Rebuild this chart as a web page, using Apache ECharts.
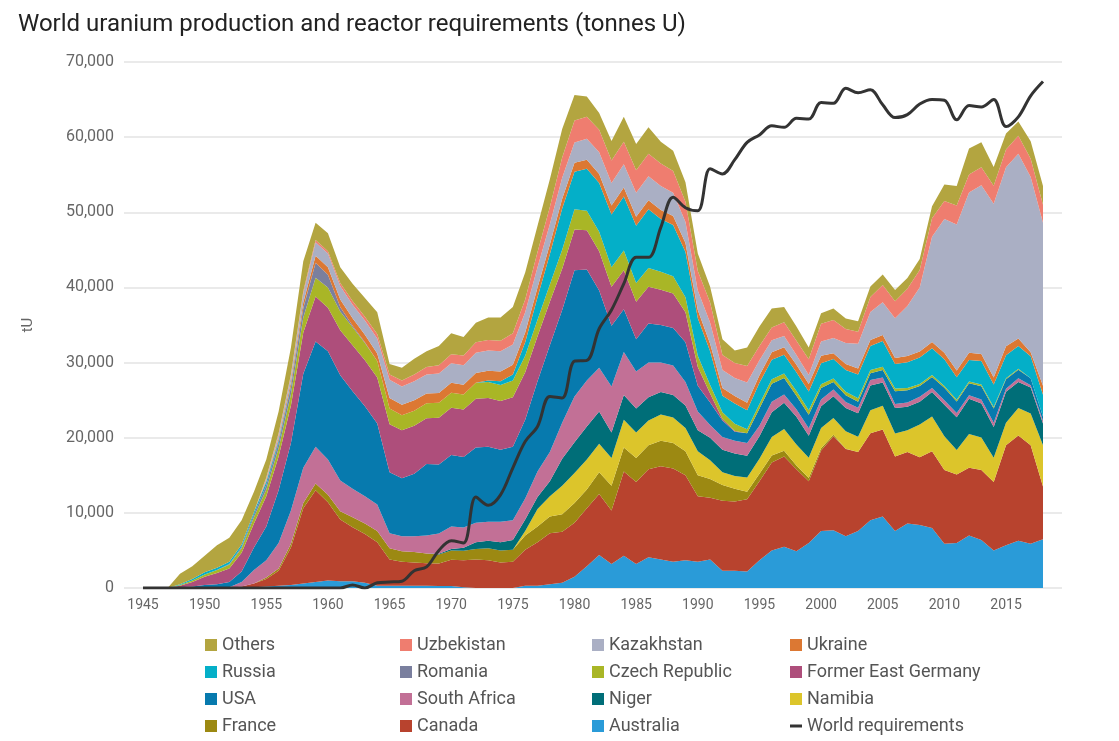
<!DOCTYPE html>
<html><head><meta charset="utf-8">
<script src="https://cdn.jsdelivr.net/npm/echarts@6/dist/echarts.min.js"></script>
<style>html,body{margin:0;padding:0;background:#fff}#c{width:1119px;height:741px}</style>
</head><body><div id="c"></div>
<script>
const years = [1945,1946,1947,1948,1949,1950,1951,1952,1953,1954,1955,1956,1957,1958,1959,1960,1961,1962,1963,1964,1965,1966,1967,1968,1969,1970,1971,1972,1973,1974,1975,1976,1977,1978,1979,1980,1981,1982,1983,1984,1985,1986,1987,1988,1989,1990,1991,1992,1993,1994,1995,1996,1997,1998,1999,2000,2001,2002,2003,2004,2005,2006,2007,2008,2009,2010,2011,2012,2013,2014,2015,2016,2017,2018];
const yTickLabels = ['0','10,000','20,000','30,000','40,000','50,000','60,000','70,000'];

const australia = [0,0,0,0,0,0,0,0,0,100,200,300,400,600,800,1000,900,900,700,300,300,300,300,300,250,250,100,0,0,0,0,300,300,500,700,1500,2900,4400,3200,4300,3200,4100,3800,3500,3700,3500,3800,2300,2300,2200,3700,5000,5500,4900,6000,7600,7700,6900,7600,9000,9500,7600,8600,8400,8000,5900,6000,7000,6400,5000,5700,6300,5900,6500];
const canada = [0,0,0,0,0,0,0,0,200,500,1000,2000,5000,10000,12200,10400,8200,7200,6500,5800,3500,3200,3100,3000,3000,3500,3600,3800,3700,3400,3500,4800,5800,6800,6800,7200,7700,8100,7100,11200,10900,11700,12400,12400,11300,8700,8200,9300,9200,9600,10500,11700,12000,10900,8200,10700,12500,11600,10500,11600,11600,9900,9500,9000,10200,9800,9100,9000,9300,9100,13300,14000,13100,7000];
const france = [0,0,0,0,0,0,0,0,0,0,200,300,500,700,900,1000,1100,1300,1400,1500,1500,1400,1400,1300,1200,1250,1250,1400,1600,1600,1600,1900,2100,2200,2300,2600,2500,2900,3300,3200,3200,3200,3400,3400,3200,2800,2500,2100,1700,1000,1000,930,750,500,450,300,180,20,0,0,0,0,0,0,0,0,0,0,0,0,0,0,0,0];
const namibia = [0,0,0,0,0,0,0,0,0,0,0,0,0,0,0,0,0,0,0,0,0,0,0,0,0,0,0,0,0,0,0,600,2300,2700,3800,4000,4000,3800,3700,3700,3400,3300,3500,3400,3100,3200,2500,1700,1700,1900,2000,2450,2900,2800,2700,2700,2240,2330,2040,3040,3150,3070,2880,4370,4630,4500,3260,4500,4320,3250,3000,3650,4220,5500];
const niger = [0,0,0,0,0,0,0,0,0,0,0,0,0,0,0,0,0,0,0,0,0,0,0,0,100,200,400,900,1000,1100,1300,1500,1600,2000,3600,4100,4400,4300,3400,3300,3200,3100,3000,3000,3000,2800,3000,3000,3000,2900,3000,3300,3500,3700,2900,2900,2900,3100,3100,3300,3100,3400,3150,3030,3240,4200,4350,4670,4520,4060,4120,3480,3450,2900];
const southAfrica = [0,0,0,0,0,0,0,100,600,1800,2300,3400,4400,4700,4900,4700,4100,3800,3600,3500,2000,2000,2100,2400,2700,3000,2700,2600,2500,2700,2600,2800,3400,3900,4800,6100,6100,5800,6100,5700,4900,4600,3900,3900,3100,2500,1700,1700,1700,1700,1400,1400,1100,1000,1000,900,900,800,760,750,670,530,540,650,560,580,580,470,530,570,390,490,310,350];
const usa = [0,0,0,100,200,400,500,700,1400,3000,4500,7000,9000,12500,14000,14400,14000,13000,12000,10800,8100,7700,8300,9500,9200,9500,9400,10000,10000,9600,9800,10500,12000,14200,15000,16800,14800,10300,8100,5700,4300,5200,5000,5000,5300,3400,3000,2200,1200,1300,2300,2400,2200,1800,1800,1500,1000,900,800,900,1000,1700,1650,1430,1450,1660,1540,1600,1790,1920,1260,1130,940,580];
const eastGermany = [0,0,0,200,600,1100,1500,1800,2500,3200,4000,4500,5000,5500,6000,5800,6000,6100,6100,6100,6400,6400,6400,6100,6200,6300,6300,6500,6500,6500,6600,6300,6000,5800,5500,5400,5200,5200,5200,5200,5000,4900,4700,4600,4000,2500,1200,200,100,0,0,0,0,0,0,0,0,0,0,0,0,0,0,0,0,0,0,0,0,0,0,0,0,0];
const czech = [0,0,0,100,200,300,400,500,600,800,900,1100,1500,2000,2500,2700,2500,2400,2300,2200,2100,2000,2000,2000,2000,2000,2000,2100,2100,2100,2200,2200,2200,2300,2500,2700,2600,2600,2600,2600,2500,2500,2400,2300,2000,1500,1100,900,950,540,600,600,600,610,600,500,460,460,450,410,410,360,300,260,260,250,230,230,215,190,155,140,0,0];
const romania = [0,0,0,0,0,0,0,100,200,400,600,700,900,1200,2000,1700,600,200,100,0,0,0,0,0,0,0,0,0,0,0,0,0,0,0,0,0,0,0,0,0,0,0,0,0,0,0,0,0,0,0,0,0,0,0,0,0,0,0,0,0,0,0,0,0,0,0,0,0,0,0,0,0,0,0];
const russia = [0,0,0,100,200,300,300,300,300,300,400,300,200,100,0,0,0,0,0,0,0,0,0,0,0,0,0,0,200,500,800,1800,3000,4000,5500,5000,5600,6500,7000,7200,7600,7800,7000,6800,6000,5000,4500,2200,2700,2500,2800,2600,2500,2500,2500,2800,2600,2900,3150,3200,3430,3260,3410,3520,3560,3560,2990,2870,3140,2990,3060,3000,2920,2900];
const ukraine = [0,0,0,0,0,0,0,0,0,0,200,300,500,700,900,1000,1000,1000,1000,1000,1400,1400,1400,1300,1300,1300,1300,1300,1300,1300,1300,1300,1300,1300,1300,1200,1200,1200,1200,1200,1200,1200,1200,1200,1200,1100,1000,1000,1000,1000,1000,1000,1000,1000,1000,1000,750,800,800,800,800,800,850,800,840,850,890,960,920,930,1200,1000,550,1180];
const kazakhstan = [0,0,0,0,0,0,0,0,0,0,300,500,800,1200,1800,1800,1800,1800,1900,2000,2400,2400,2500,2500,2600,2600,2600,2700,2700,2700,2700,2700,2700,2700,2800,2700,2800,2900,3000,3100,3200,3200,3200,3100,2800,2600,2800,2400,2400,2700,2000,1600,1500,1300,1200,1900,2050,2800,3300,3720,4360,5280,6640,8520,14020,17800,19450,21320,22450,23130,23800,24590,23320,21700];
const uzbekistan = [0,0,0,0,0,0,0,0,0,0,100,200,200,300,300,300,400,500,500,600,700,800,900,1000,1100,1200,1300,1400,1400,1400,1500,1700,2000,2300,2700,2900,2900,3000,3000,3000,3000,3000,3000,2900,2700,2600,2700,2000,2000,2200,1900,1700,1800,1900,2100,2350,2400,1860,1600,2020,2300,2260,2320,2340,2430,2400,2500,2400,2400,2400,2385,2400,2400,2400];
const others = [0,0,0,1400,1700,2200,3000,3200,3200,2700,2400,2900,3600,4000,2300,2400,2100,2300,2500,2900,1400,1700,2100,2100,2550,2800,2450,2600,3000,3100,3500,3600,3500,3700,3800,3400,2700,2200,2600,3300,3500,3500,2900,2700,2600,2300,2100,2100,1650,2460,2600,2520,2050,1890,1550,1400,1500,1400,1400,1400,1400,1500,1400,1450,1600,2200,2600,3470,3350,2500,2130,1890,2350,2490];
const worldRequirements = [0,0,0,0,0,0,0,0,0,0,0,0,0,0,0,0,0,400,0,700,800,900,2300,2800,5000,6300,6000,12100,11000,12400,16000,19500,21500,25500,25300,30200,30300,34500,37000,40500,44000,44000,48000,52000,50600,50200,55800,55100,57000,59300,60300,61500,61300,62500,62400,64600,64500,66500,65900,66300,64300,62600,63000,64400,65000,64900,62300,64200,64000,65000,61400,62700,65500,67400];

const stackOrder = [
  ['Australia', australia, '#2a9bd8'],
  ['Canada', canada, '#b8432e'],
  ['France', france, '#9c8912'],
  ['Namibia', namibia, '#dcc52b'],
  ['Niger', niger, '#006e78'],
  ['South Africa', southAfrica, '#c27096'],
  ['USA', usa, '#077aae'],
  ['Former East Germany', eastGermany, '#ae4e7b'],
  ['Czech Republic', czech, '#a9b626'],
  ['Romania', romania, '#7a7f9e'],
  ['Russia', russia, '#04afc8'],
  ['Ukraine', ukraine, '#dc7833'],
  ['Kazakhstan', kazakhstan, '#aaafc4'],
  ['Uzbekistan', uzbekistan, '#ef7d6f'],
  ['Others', others, '#b3a540']
];

const series = stackOrder.map(([name, vals, color]) => ({
  name, type: 'line', stack: 'prod', symbol: 'none', showSymbol: false,
  xAxisIndex: 1, yAxisIndex: 1,
  data: vals,
  lineStyle: { width: 0 }, itemStyle: { color },
  areaStyle: { color, opacity: 1 },
  emphasis: { disabled: true }, silent: true
}));
series.push({
  name: 'World requirements', type: 'line', symbol: 'none', showSymbol: false,
  xAxisIndex: 1, yAxisIndex: 1,
  smooth: 0.35, z: 10,
  data: worldRequirements,
  lineStyle: { color: '#333333', width: 3 }, itemStyle: { color: '#333333' },
  emphasis: { disabled: true }, silent: true
});

const legendBase = {
  orient: 'vertical', icon: 'rect', itemWidth: 12, itemHeight: 12, itemGap: 9,
  padding: 0, selectedMode: false,
  itemStyle: { borderWidth: 0 },
  textStyle: { fontFamily: 'Roboto', fontSize: 18, color: '#555', lineHeight: 18 }
};
const legendCols = [
  [205, 636, ['Others', 'Russia', 'USA', 'France']],
  [400, 636, ['Uzbekistan', 'Romania', 'South Africa', 'Canada']],
  [592, 636, ['Kazakhstan', 'Czech Republic', 'Niger', 'Australia']],
  [790, 636, ['Ukraine', 'Former East Germany', 'Namibia']]
];
const legends = legendCols.map(([left, top, data]) => Object.assign({}, legendBase, { left, top, data }));
legends.push(Object.assign({}, legendBase, { left: 790, top: 717, itemHeight: 3, data: ['World requirements'] }));

const chart = echarts.init(document.getElementById('c'), null, { renderer: 'canvas' });
chart.setOption({
  animation: false,
  backgroundColor: '#fff',
  title: {
    text: 'World uranium production and reactor requirements (tonnes U)',
    left: 13, top: 8,
    textStyle: { fontFamily: 'Roboto', fontSize: 24, fontWeight: 'normal', color: '#222' }
  },
  legend: legends,
  grid: [
    { left: 124, right: 57, top: 62, bottom: 153 },
    { left: 143, right: 76, top: 62, bottom: 153 }
  ],
  xAxis: [
    { gridIndex: 0, type: 'value', min: 0, max: 1, show: false },
    {
      gridIndex: 1, type: 'category', data: years.map(String), boundaryGap: false,
      axisLine: { show: false }, axisTick: { show: false }, splitLine: { show: false },
      axisLabel: { interval: 4, fontFamily: 'Roboto', fontSize: 14, color: '#666', margin: 10 }
    }
  ],
  yAxis: [
    {
      gridIndex: 0, type: 'value', min: 0, max: 70000, interval: 10000,
      name: 'tU', nameLocation: 'middle', nameGap: 88,
      nameTextStyle: { fontFamily: 'Roboto', fontSize: 15, color: '#666' },
      axisLine: { show: false }, axisTick: { show: false },
      splitLine: { lineStyle: { color: '#e3e3e3', width: 1.5 } },
      axisLabel: {
        formatter: (v) => yTickLabels[Math.round(v / 10000)],
        fontFamily: 'Roboto', fontSize: 16, color: '#666', margin: 10
      }
    },
    { gridIndex: 1, type: 'value', min: 0, max: 70000, interval: 10000, show: false, splitLine: { show: false } }
  ],
  series
});
</script>
</body></html>
